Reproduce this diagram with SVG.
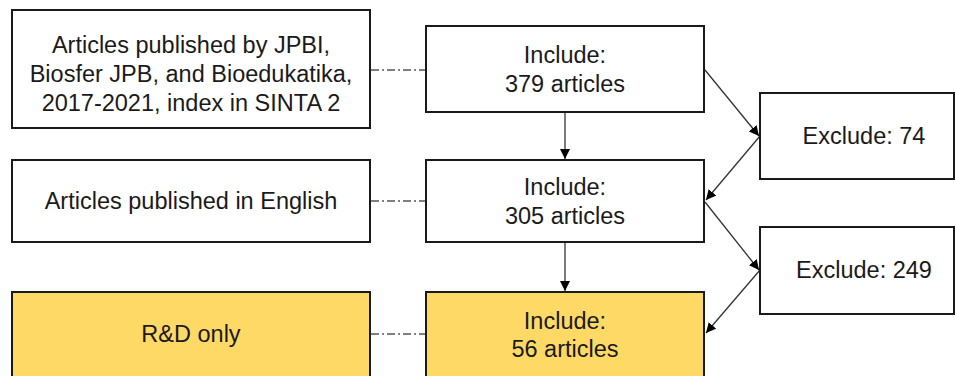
<svg xmlns="http://www.w3.org/2000/svg" width="956" height="376" viewBox="0 0 956 376">
<style>
.box{fill:#fff;stroke:#1a1a1a;stroke-width:2}
.hl{fill:#FFD966}
text{font-family:"Liberation Sans",Arial,sans-serif;font-size:23.5px;fill:#1a1a1a;text-anchor:middle}
.dd{stroke:#555;stroke-width:1.5;stroke-dasharray:8 3 2 3;fill:none}
.ar{stroke:#333;stroke-width:1.3;fill:none;marker-end:url(#ah)}
</style>
<defs>
<marker id="ah" viewBox="0 0 10 10" refX="10" refY="5" markerWidth="10" markerHeight="10" markerUnits="userSpaceOnUse" orient="auto">
<path d="M0,0 L10,5 L0,10 Z" fill="#000"/>
</marker>
</defs>
<rect width="956" height="376" fill="#fff"/>
<g id="connectors">
<line class="dd" x1="371" y1="70" x2="426" y2="70"/>
<line class="dd" x1="371" y1="201" x2="426" y2="201"/>
<line class="dd" x1="371" y1="334" x2="426" y2="334"/>
<line class="ar" x1="565" y1="112" x2="565" y2="159"/>
<line class="ar" x1="565" y1="242" x2="565" y2="291"/>
<line class="ar" x1="705" y1="70" x2="759" y2="136"/>
<line class="ar" x1="760" y1="136" x2="706" y2="200"/>
<line class="ar" x1="705" y1="202" x2="759" y2="270"/>
<line class="ar" x1="760" y1="270" x2="706" y2="333"/>
</g>
<g id="n-source">
<rect class="box" x="12" y="10" width="358" height="118"/>
<text x="191" y="53">Articles published by JPBI,</text>
<text x="191" y="82">Biosfer JPB, and Bioedukatika,</text>
<text x="191" y="111">2017-2021, index in SINTA 2</text>
</g>
<g id="n-inc379">
<rect class="box" x="426" y="26" width="278" height="86"/>
<text x="565" y="63">Include:</text>
<text x="565" y="92">379 articles</text>
</g>
<g id="n-exc74">
<rect class="box" x="760" y="93" width="194" height="86"/>
<text x="864" y="144">Exclude: 74</text>
</g>
<g id="n-english">
<rect class="box" x="12" y="160" width="358" height="82"/>
<text x="191" y="209">Articles published in English</text>
</g>
<g id="n-inc305">
<rect class="box" x="426" y="160" width="278" height="82"/>
<text x="565" y="195">Include:</text>
<text x="565" y="224">305 articles</text>
</g>
<g id="n-exc249">
<rect class="box" x="760" y="227" width="194" height="87"/>
<text x="864" y="278">Exclude: 249</text>
</g>
<g id="n-rd">
<rect class="box hl" x="12" y="292" width="358" height="90"/>
<text x="191" y="342">R&amp;D only</text>
</g>
<g id="n-inc56">
<rect class="box hl" x="426" y="292" width="278" height="90"/>
<text x="565" y="329">Include:</text>
<text x="565" y="357">56 articles</text>
</g>
</svg>
